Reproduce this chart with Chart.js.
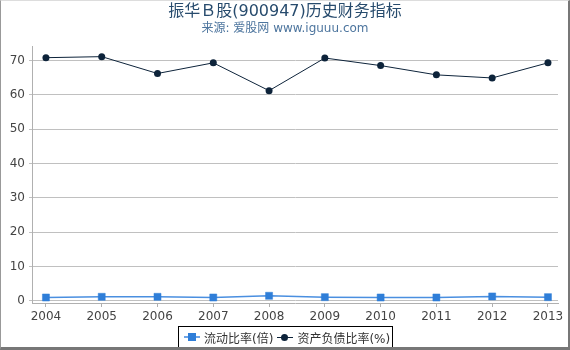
<!DOCTYPE html>
<html>
<head>
<meta charset="utf-8">
<script src="https://cdn.jsdelivr.net/npm/chart.js@4/dist/chart.umd.min.js"></script>
<style>
    html, body { margin: 0; padding: 0; background: #fff; }
    #wrap { position: relative; width: 570px; height: 350px; overflow: hidden; font-family: "DejaVu Sans", "Noto Sans CJK SC", sans-serif; }
    #frame { position: absolute; left: 0; top: 0; width: 567px; height: 346px; border-left: 1px solid #999; border-top: 1px solid #ddd; border-right: 2px solid #777; border-bottom: 3px solid #777; box-sizing: content-box; pointer-events: none; }
    #title { position: absolute; left: 0; width: 570px; top: 0; text-align: center; font-size: 16px; color: #274b6d; line-height: 21px; }
    #subtitle { position: absolute; left: 0; width: 570px; top: 20px; text-align: center; font-size: 12px; color: #4d759e; line-height: 17px; }
    #legend { position: absolute; left: 178px; top: 326px; border: 1px solid #000; font-size: 12px; color: #333; display: flex; align-items: center; padding-left: 5px; box-sizing: border-box; width: 215px; height: 22px; white-space: nowrap; }
    .item { display: flex; align-items: center; margin-right: 4px; }
    .mark { position: relative; width: 16px; height: 10px; margin-right: 4px; }
    .mark .ln { position: absolute; left: 0; top: 4px; width: 16px; height: 2px; }
    .mark .pt { position: absolute; }
    canvas { position: absolute; left: 0; top: 0; }
</style>
</head>
<body>
<div id="wrap">
    <canvas id="c" width="570" height="350"></canvas>
    <div id="title">振华Ｂ股(900947)历史财务指标</div>
    <div id="subtitle">来源: 爱股网 www.iguuu.com</div>
    <div id="legend">
        <div class="item"><div class="mark"><div class="ln" style="background:#6fa5e6"></div><div class="pt" style="left:4px;top:1px;width:8px;height:8px;background:#2f7ed8"></div></div>流动比率(倍)</div>
        <div class="item"><div class="mark"><div class="ln" style="background:#0d233a;height:1px;top:5px"></div><div class="pt" style="left:4px;top:2px;width:7px;height:7px;border-radius:50%;background:#0d233a"></div></div>资产负债比率(%)</div>
    </div>
    <div id="frame"></div>
</div>
<script>
    const years = [2004, 2005, 2006, 2007, 2008, 2009, 2010, 2011, 2012, 2013];
    const currentRatio = [1.0, 1.2, 1.2, 1.0, 1.5, 1.1, 1.0, 1.0, 1.3, 1.1];
    const debtRatio = [70.8, 71.1, 66.2, 69.3, 61.2, 70.7, 68.5, 65.8, 64.9, 69.3];
    const yTicks = [0, 10, 20, 30, 40, 50, 60, 70];

    const toPoints = (values) => values.map((v, i) => ({ x: years[i], y: v }));

    new Chart(document.getElementById('c'), {
        type: 'line',
        data: {
            datasets: [{
                label: '流动比率(倍)',
                data: toPoints(currentRatio),
                borderColor: '#4a8fe0',
                borderWidth: 1.5,
                pointStyle: 'rect',
                pointRadius: 5,
                pointBackgroundColor: '#2f7ed8',
                pointBorderColor: 'rgba(47,126,216,0.45)',
                pointBorderWidth: 1,
                tension: 0,
            }, {
                label: '资产负债比率(%)',
                data: toPoints(debtRatio),
                borderColor: '#0d233a',
                borderWidth: 1,
                pointStyle: 'circle',
                pointRadius: 3.5,
                pointBackgroundColor: '#0d233a',
                pointBorderColor: '#0d233a',
                pointBorderWidth: 0,
                tension: 0,
            }],
        },
        options: {
            responsive: false,
            animation: false,
            layout: { padding: { top: 46, left: 0, right: 12, bottom: 27 } },
            plugins: { legend: { display: false }, tooltip: { enabled: false }, title: { display: false } },
            scales: {
                x: {
                    type: 'linear',
                    min: 2003.75,
                    max: 2013.18,
                    afterBuildTicks: (axis) => { axis.ticks = years.map((v) => ({ value: v })); },
                    afterFit: (axis) => { axis.height = 20; },
                    grid: { display: true, drawOnChartArea: false, drawTicks: true, tickLength: 4, color: '#b0b0b0' },
                    border: { display: true, color: '#b0b0b0', width: 1 },
                    ticks: {
                        color: '#444',
                        font: { family: 'DejaVu Sans', size: 12 },
                        padding: 3,
                        maxRotation: 0,
                        autoSkip: false,
                        callback: (v) => String(v),
                    },
                },
                y: {
                    min: -0.6,
                    max: 74.2,
                    afterBuildTicks: (axis) => { axis.ticks = yTicks.map((v) => ({ value: v })); },
                    afterFit: (axis) => { axis.width = 32; },
                    grid: { color: '#c0c0c0', lineWidth: 1, tickLength: 3 },
                    border: { display: true, color: '#b0b0b0', width: 1 },
                    ticks: {
                        color: '#444',
                        font: { family: 'DejaVu Sans', size: 12 },
                        padding: 4,
                    },
                },
            },
        },
    });
</script>
</body>
</html>
